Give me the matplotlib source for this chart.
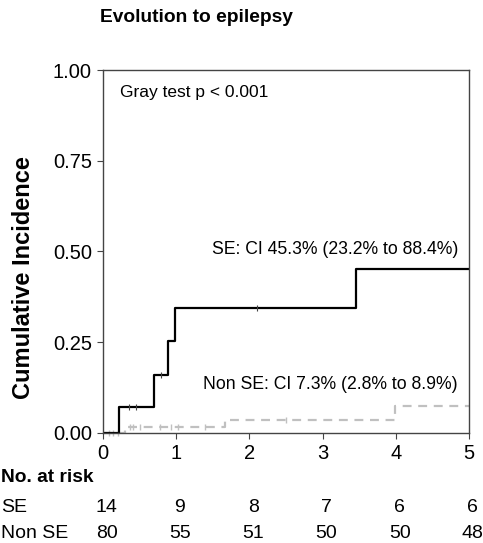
import matplotlib.pyplot as plt

plt.rcParams['font.family'] = ['Liberation Sans', 'DejaVu Sans']

# step curves (time, cumulative incidence)
se_t = [0, 0.22, 0.70, 0.89, 0.98, 3.46, 5.0]
se_ci = [0, 0.071, 0.160, 0.253, 0.343, 0.452, 0.452]
se_cens_t = [0.36, 0.45, 0.80, 2.10]
se_cens_y = [0.071, 0.071, 0.160, 0.343]

nse_t = [0, 0.30, 1.67, 3.99, 5.0]
nse_ci = [0, 0.016, 0.036, 0.075, 0.075]
nse_cens_t = [0.08, 0.14, 0.20, 0.37, 0.41, 0.51, 0.78, 0.93, 1.03, 1.40, 2.50]
nse_cens_y = [0, 0, 0, 0.016, 0.016, 0.016, 0.016, 0.016, 0.016, 0.016, 0.036]

risk_times = [0, 1, 2, 3, 4, 5]
risk_se = [14, 9, 8, 7, 6, 6]
risk_nse = [80, 55, 51, 50, 50, 48]

fig = plt.figure(figsize=(4.83, 5.43), dpi=100)
ax = fig.add_axes([0.213, 0.203, 0.758, 0.668])

ax.step(nse_t, nse_ci, where='post', color='#c0c0c0', lw=1.6, ls=(0, (4, 3)))
ax.plot(nse_cens_t, nse_cens_y, ls='none', marker='|', ms=5, mew=1, color='#c0c0c0', clip_on=False)
ax.step(se_t, se_ci, where='post', color='black', lw=1.6)
ax.plot(se_cens_t, se_cens_y, ls='none', marker='|', ms=5, mew=0.8, color='#444444')

ax.set_xlim(0, 5)
ax.set_ylim(0, 1)
ax.set_xticks(risk_times)
ax.set_yticks([0, 0.25, 0.5, 0.75, 1.0])
ax.set_yticklabels(['0.00', '0.25', '0.50', '0.75', '1.00'])
ax.tick_params(labelsize=14.5, direction='out', length=4, color='#444444', pad=4)
for s in ax.spines.values():
    s.set_color('#444444')
    s.set_linewidth(1)

ax.set_ylabel('Cumulative Incidence', fontsize=17, fontweight='bold', va='center')
ax.yaxis.set_label_coords(-0.216, 0.427)

ax.text(0.23, 0.937, 'Gray test p < 0.001', fontsize=12.5, va='center')
ax.text(4.86, 0.504, 'SE: CI 45.3% (23.2% to 88.4%)', fontsize=12.7, ha='right', va='center')
ax.text(1.37, 0.132, 'Non SE: CI 7.3% (2.8% to 8.9%)', fontsize=12.7, va='center')

fig.text(100 / 483, 1 - 18 / 543, 'Evolution to epilepsy', fontsize=13.8, fontweight='bold', va='center')

# numbers at risk table
fig.text(1 / 483, 1 - 477 / 543, 'No. at risk', fontsize=13.8, fontweight='bold', va='center')
fig.text(1 / 483, 1 - 508 / 543, 'SE', fontsize=14, va='center')
fig.text(1 / 483, 1 - 533 / 543, 'Non SE', fontsize=14, va='center')
for t, a, b in zip(risk_times, risk_se, risk_nse):
    xf = ax.transData.transform((t, 0))[0] / fig.bbox.width
    fig.text(xf + 0.008, 1 - 508 / 543, str(a), fontsize=14, ha='center', va='center')
    fig.text(xf + 0.008, 1 - 533 / 543, str(b), fontsize=14, ha='center', va='center')

fig.savefig('out.png', dpi=100)
